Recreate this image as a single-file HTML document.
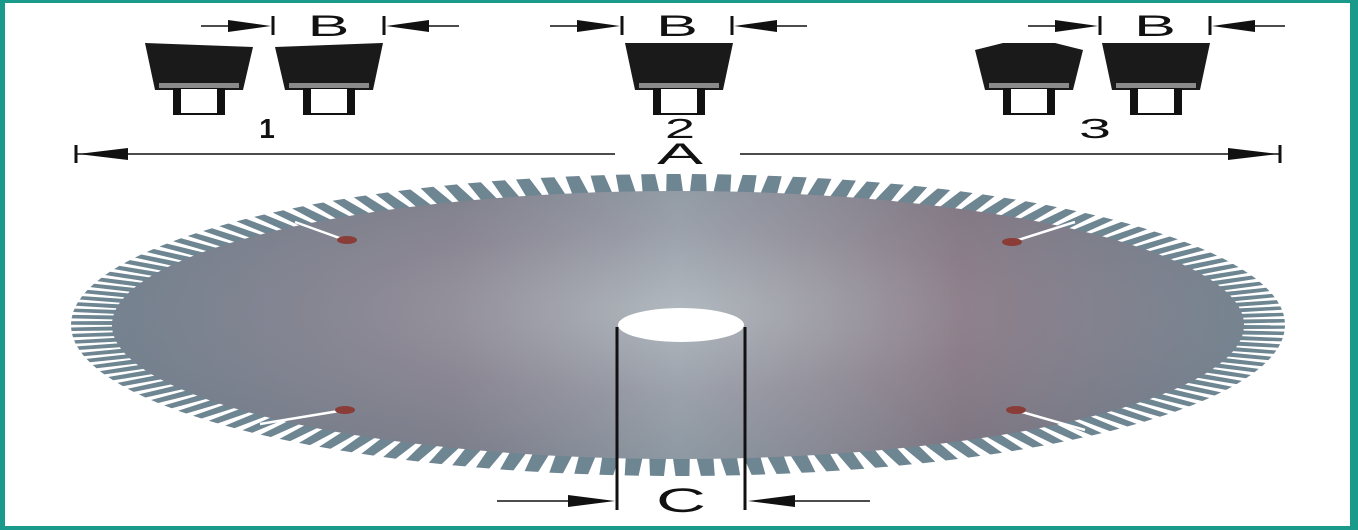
<!DOCTYPE html>
<html><head><meta charset="utf-8"><style>
html,body{margin:0;padding:0;background:#fff}
svg{display:block}
text{font-family:"Liberation Sans",sans-serif;fill:#111}
</style></head><body>
<svg id="s" width="1358" height="530" viewBox="0 0 1358 530">
<defs>
<radialGradient id="bg" cx="0.5" cy="0.45" r="0.6">
<stop offset="0" stop-color="#aab3ba"/>
<stop offset="0.5" stop-color="#8c919d"/>
<stop offset="1" stop-color="#74838f"/>
</radialGradient>
<linearGradient id="tint" x1="0" y1="0" x2="1" y2="0">
<stop offset="0" stop-color="#6a7888" stop-opacity="0.4"/>
<stop offset="0.3" stop-color="#8a6a78" stop-opacity="0.25"/>
<stop offset="0.5" stop-color="#c0c8cc" stop-opacity="0.3"/>
<stop offset="0.75" stop-color="#8a5a66" stop-opacity="0.35"/>
<stop offset="1" stop-color="#6a7a88" stop-opacity="0.3"/>
</linearGradient>
</defs>
<rect x="0" y="0" width="1358" height="530" fill="#1a9a8a"/>
<rect x="5" y="3" width="1345" height="523" fill="#fff"/>
<g id="teeth"></g>
<ellipse cx="678" cy="325" rx="566" ry="134" fill="url(#bg)"/>
<ellipse cx="678" cy="325" rx="566" ry="134" fill="url(#tint)"/>
<g stroke="#fff" stroke-width="2.5">
<line x1="345" y1="240" x2="295" y2="222"/><line x1="1012" y1="242" x2="1075" y2="222"/>
<line x1="345" y1="410" x2="260" y2="424"/><line x1="1015" y1="410" x2="1085" y2="430"/>
</g>
<g fill="#8a3c36">
<ellipse cx="347" cy="240" rx="10" ry="4"/><ellipse cx="1012" cy="242" rx="10" ry="4"/>
<ellipse cx="345" cy="410" rx="10" ry="4"/><ellipse cx="1016" cy="410" rx="10" ry="4"/>
</g>
<ellipse cx="681" cy="325" rx="63" ry="17" fill="#fff"/>
<g id="profiles"></g>
<g stroke="#111" fill="#111">
<line x1="617" y1="327" x2="617" y2="510" stroke-width="3"/>
<line x1="745" y1="327" x2="745" y2="510" stroke-width="3"/>
<line x1="497" y1="501" x2="590" y2="501" stroke-width="1.5"/>
<polygon points="568,495 615,501 568,507" stroke="none"/>
<line x1="775" y1="501" x2="870" y2="501" stroke-width="1.5"/>
<polygon points="795,495 748,501 795,507" stroke="none"/>
<line x1="75" y1="154" x2="615" y2="154" stroke-width="1.5"/>
<line x1="740" y1="154" x2="1280" y2="154" stroke-width="1.5"/>
<line x1="76" y1="145" x2="76" y2="163" stroke-width="3"/>
<line x1="1280" y1="145" x2="1280" y2="163" stroke-width="3"/>
<polygon points="78,154 128,148 128,160" stroke="none"/>
<polygon points="1278,154 1228,148 1228,160" stroke="none"/>
</g>
<text x="681" y="512" font-size="34" text-anchor="middle" textLength="50" lengthAdjust="spacingAndGlyphs">C</text>
<text x="680" y="164" font-size="30" text-anchor="middle" textLength="46" lengthAdjust="spacingAndGlyphs">A</text>
<text x="267" y="138" font-size="28" font-weight="bold" text-anchor="middle">1</text>
<text x="680" y="138" font-size="28" text-anchor="middle" textLength="30" lengthAdjust="spacingAndGlyphs">2</text>
<text x="1095" y="138" font-size="28" text-anchor="middle" textLength="32" lengthAdjust="spacingAndGlyphs">3</text>
</svg>
<script>
const NS='http://www.w3.org/2000/svg';
function mk(p,tag,attrs){const e=document.createElementNS(NS,tag);for(const k in attrs)e.setAttribute(k,attrs[k]);p.appendChild(e);return e;}
const tg=document.getElementById('teeth');
const N=150,cx=678,cy=325,R1x=562,R1y=132,R2x=607,R2y=151;
for(let i=0;i<N;i++){
  const d=2*Math.PI/N,a=i*d;
  const pts=[[R1x*Math.cos(a),R1y*Math.sin(a)],[R2x*Math.cos(a+0.05*d),R2y*Math.sin(a+0.05*d)],[R2x*Math.cos(a+0.6*d),R2y*Math.sin(a+0.6*d)],[R1x*Math.cos(a+0.72*d),R1y*Math.sin(a+0.72*d)]];
  const t=mk(tg,'polygon',{points:pts.map(p=>(cx+p[0]).toFixed(1)+','+(cy+p[1]).toFixed(1)).join(' '),fill:'#6e8592'});
  
  
}
const pg=document.getElementById('profiles');
function tooth(x,type){
  const w=108;let top;
  if(type==='L')top=`${x},47 ${x+w},43`;else if(type==='R')top=`${x},43 ${x+w},47`;
  else if(type==='C')top=`${x},50 ${x+28},43 ${x+w-28},43 ${x+w},50`;else top=`${x},43 ${x+w},43`;
  const poly=mk(pg,'polygon',{points:`${top} ${x+w-10},90 ${x+10},90`,fill:'#1a1a1a'});
  
  
  mk(pg,'rect',{x:x+14,y:83,width:w-28,height:5,fill:'#8a8a8a'});
  mk(pg,'rect',{x:x+28,y:88,width:w-56,height:27,fill:'#111'});
  mk(pg,'rect',{x:x+36,y:89,width:w-72,height:24,fill:'#fff'});
}
tooth(145,'R');tooth(275,'L');tooth(625,'F');tooth(975,'C');tooth(1102,'F');
function bdim(x1,x2){
  mk(pg,'line',{x1:x1,y1:16,x2:x1,y2:35,stroke:'#111','stroke-width':3});
  mk(pg,'line',{x1:x2,y1:16,x2:x2,y2:35,stroke:'#111','stroke-width':3});
  mk(pg,'line',{x1:x1-72,y1:26,x2:x1-20,y2:26,stroke:'#111','stroke-width':1.5});
  mk(pg,'polygon',{points:`${x1-2},26 ${x1-45},20 ${x1-45},32`,fill:'#111'});
  mk(pg,'line',{x1:x2+20,y1:26,x2:x2+75,y2:26,stroke:'#111','stroke-width':1.5});
  mk(pg,'polygon',{points:`${x2+2},26 ${x2+45},20 ${x2+45},32`,fill:'#111'});
  const t=mk(pg,'text',{x:(x1+x2)/2,y:36,'font-size':30,'text-anchor':'middle',textLength:42,lengthAdjust:'spacingAndGlyphs'});
  t.textContent='B';
  
  
}
bdim(273,384);bdim(622,732);bdim(1100,1210);
</script>
</body></html>
